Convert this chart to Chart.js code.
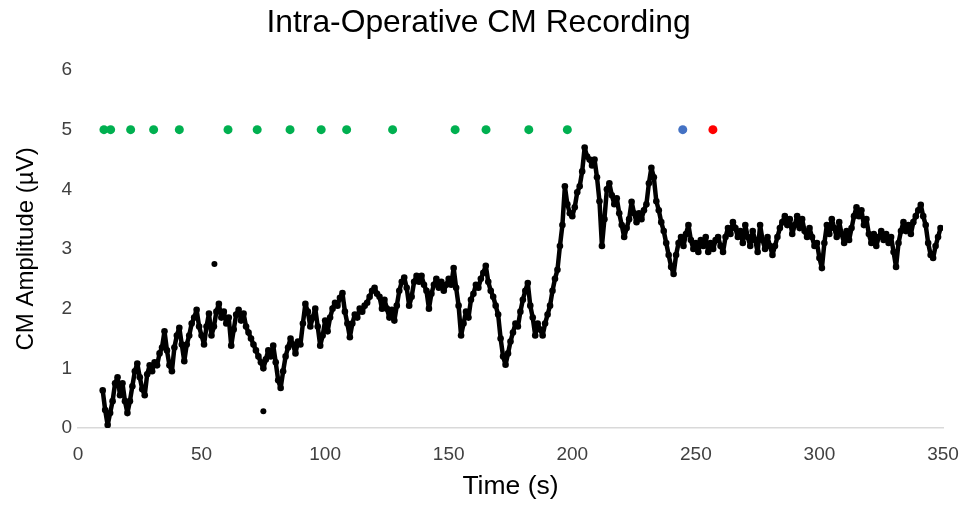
<!DOCTYPE html>
<html lang="en">
<head>
    <meta charset="UTF-8">
    <title>Intra-Operative CM Recording</title>
    <script src="https://cdn.jsdelivr.net/npm/chart.js"></script>
    <style>
        html, body { margin: 0; padding: 0; background: #fff; }
        #wrap { width: 965px; height: 508px; }
    </style>
</head>
<body>
<div id="wrap"><canvas id="cmChart" width="965" height="508"></canvas></div>
<script>
// CM amplitude (uV), one reading per second starting at t = 10 s
const startTime = 10;
const stepTime = 1;
const cmAmplitude = [
    0.63, 0.30, 0.05, 0.25, 0.45, 0.75, 0.85, 0.55, 0.75, 0.45,   // 10-19
    0.25, 0.45, 0.70, 0.95, 1.08, 0.85, 0.65, 0.55, 0.90, 1.05,   // 20-29
    0.95, 1.10, 1.05, 1.25, 1.35, 1.62, 1.30, 1.05, 0.95, 1.35,   // 30-39
    1.55, 1.68, 1.40, 1.12, 1.40, 1.55, 1.75, 1.85, 1.98, 1.70,   // 40-49
    1.55, 1.40, 1.70, 1.92, 1.55, 1.70, 1.95, 2.08, 1.85, 1.95,   // 50-59
    1.75, 1.85, 1.38, 1.65, 1.90, 1.98, 1.80, 1.92, 1.70, 1.60,   // 60-69
    1.50, 1.40, 1.30, 1.20, 1.10, 1.00, 1.15, 1.30, 1.20, 1.38,   // 70-79
    1.10, 0.80, 0.67, 0.95, 1.20, 1.35, 1.50, 1.40, 1.25, 1.45,   // 80-89
    1.40, 1.75, 2.08, 1.95, 1.70, 1.85, 2.00, 1.70, 1.38, 1.55,   // 90-99
    1.80, 1.62, 1.85, 2.00, 2.10, 2.05, 2.18, 2.26, 1.95, 1.75,   // 100-109
    1.52, 1.75, 1.90, 1.85, 2.00, 1.95, 2.05, 2.10, 2.20, 2.30,   // 110-119
    2.35, 2.25, 2.20, 2.00, 2.15, 2.00, 1.85, 1.98, 1.80, 2.05,   // 120-129
    2.30, 2.45, 2.52, 2.35, 2.05, 2.20, 2.45, 2.55, 2.45, 2.55,   // 130-139
    2.40, 2.30, 2.00, 2.25, 2.40, 2.50, 2.35, 2.45, 2.30, 2.40,   // 140-149
    2.50, 2.40, 2.68, 2.35, 2.05, 1.55, 1.75, 1.95, 1.85, 2.15,   // 150-159
    2.25, 2.40, 2.35, 2.50, 2.60, 2.72, 2.45, 2.30, 2.20, 2.05,   // 160-169
    1.90, 1.50, 1.20, 1.06, 1.25, 1.45, 1.60, 1.75, 1.70, 1.95,   // 170-179
    2.15, 2.30, 2.43, 2.05, 1.85, 1.55, 1.75, 1.65, 1.55, 1.75,   // 180-189
    1.90, 2.05, 2.30, 2.50, 2.65, 3.05, 3.40, 4.05, 3.75, 3.60,   // 190-199
    3.55, 3.70, 3.95, 4.05, 4.30, 4.70, 4.55, 4.50, 4.40, 4.50,   // 200-209
    4.20, 3.80, 3.05, 3.50, 4.00, 4.10, 3.90, 3.75, 3.85, 3.60,   // 210-219
    3.40, 3.20, 3.35, 3.50, 3.79, 3.60, 3.45, 3.60, 3.50, 3.65,   // 220-229
    3.75, 4.10, 4.36, 4.20, 3.80, 3.65, 3.45, 3.30, 3.10, 2.90,   // 230-239
    2.70, 2.58, 2.90, 3.10, 3.20, 3.05, 3.25, 3.40, 3.15, 3.00,   // 240-249
    3.10, 2.95, 3.15, 3.05, 3.20, 2.95, 3.10, 3.00, 3.15, 3.20,   // 250-259
    3.05, 2.95, 3.20, 3.35, 3.25, 3.45, 3.35, 3.20, 3.30, 3.10,   // 260-269
    3.40, 3.20, 3.05, 3.30, 3.15, 2.95, 3.40, 3.15, 3.00, 3.20,   // 270-279
    3.05, 2.90, 3.05, 3.20, 3.35, 3.45, 3.55, 3.40, 3.50, 3.25,   // 280-289
    3.40, 3.55, 3.35, 3.50, 3.30, 3.20, 3.35, 3.20, 3.05, 3.10,   // 290-299
    2.85, 2.68, 3.10, 3.40, 3.25, 3.50, 3.35, 3.20, 3.45, 3.25,   // 300-309
    3.10, 3.30, 3.15, 3.35, 3.55, 3.70, 3.55, 3.65, 3.40, 3.50,   // 310-319
    3.25, 3.10, 3.25, 3.05, 3.20, 3.30, 3.15, 3.25, 3.10, 3.20,   // 320-329
    2.95, 2.70, 3.10, 3.30, 3.45, 3.30, 3.40, 3.25, 3.45, 3.55,   // 330-339
    3.65, 3.74, 3.55, 3.40, 3.10, 2.90, 2.85, 3.05, 3.20, 3.35    // 340-349
];

// stray single readings away from the trace
const strayTimes = [55.2, 75.0];
const strayValues = [2.75, 0.28];

// event markers drawn at 5 uV
const markerLevel = 5;
const greenTimes = [10.5, 13.2, 21.3, 30.6, 41.0, 60.7, 72.5, 85.8, 98.4, 108.7, 127.3, 152.6, 165.1, 182.4, 198.0];
const blueTimes = [244.7];
const redTimes = [256.9];

const xTicks = [0, 50, 100, 150, 200, 250, 300, 350];
const yTicks = [0, 1, 2, 3, 4, 5, 6];

const fontFamily = '"Liberation Sans", Arial, sans-serif';
const tickColor = '#404040';

const tracePoints = cmAmplitude.map((v, i) => ({ x: startTime + i * stepTime, y: v }));
const strayPoints = strayTimes.map((t, i) => ({ x: t, y: strayValues[i] }));
const toMarkers = times => times.map(t => ({ x: t, y: markerLevel }));

const ctx = document.getElementById('cmChart').getContext('2d');
new Chart(ctx, {
    type: 'scatter',
    data: {
        datasets: [
            {
                label: 'CM',
                data: tracePoints,
                showLine: true,
                borderColor: '#000',
                borderWidth: 4.5,
                borderJoinStyle: 'round',
                borderCapStyle: 'round',
                backgroundColor: '#000',
                pointRadius: 3.3,
                pointBorderWidth: 0
            },
            {
                label: 'stray',
                data: strayPoints,
                backgroundColor: '#000',
                pointRadius: 3,
                pointBorderWidth: 0
            },
            {
                label: 'green',
                data: toMarkers(greenTimes),
                backgroundColor: '#00B050',
                pointRadius: 4.5,
                pointBorderWidth: 0
            },
            {
                label: 'blue',
                data: toMarkers(blueTimes),
                backgroundColor: '#4472C4',
                pointRadius: 4.5,
                pointBorderWidth: 0
            },
            {
                label: 'red',
                data: toMarkers(redTimes),
                backgroundColor: '#FF0000',
                pointRadius: 4.5,
                pointBorderWidth: 0
            }
        ]
    },
    options: {
        responsive: false,
        animation: false,
        layout: { padding: { left: 0, right: 8, top: 0, bottom: 0 } },
        plugins: {
            legend: { display: false },
            tooltip: { enabled: false },
            title: {
                display: true,
                text: 'Intra-Operative CM Recording',
                color: '#000',
                font: { family: fontFamily, size: 31.8, weight: 'normal' },
                padding: { top: 4, bottom: 27.8 }
            }
        },
        scales: {
            x: {
                type: 'linear',
                min: 0,
                max: 350,
                afterBuildTicks: s => { s.ticks = xTicks.map(v => ({ value: v })); },
                afterFit: s => {
                    s.height = 80;
                    s.paddingLeft = 0;
                    s.paddingRight = 22;
                },
                grid: { drawOnChartArea: false, drawTicks: false },
                border: { display: true, color: '#D9D9D9', width: 1.5 },
                ticks: {
                    color: tickColor,
                    padding: 15,
                    maxRotation: 0,
                    font: { family: fontFamily, size: 19 }
                },
                title: {
                    display: true,
                    text: 'Time (s)',
                    color: '#000',
                    font: { family: fontFamily, size: 26.5 },
                    padding: { top: 0, bottom: 5 }
                }
            },
            y: {
                min: 0,
                max: 6,
                afterBuildTicks: s => { s.ticks = yTicks.map(v => ({ value: v })); },
                afterFit: s => { s.width = 78; },
                grid: { drawOnChartArea: false, drawTicks: false },
                border: { display: false },
                ticks: {
                    color: tickColor,
                    padding: 6,
                    font: { family: fontFamily, size: 19 }
                },
                title: {
                    display: true,
                    text: 'CM Amplitude (µV)',
                    color: '#000',
                    font: { family: fontFamily, size: 24 },
                    padding: { top: 12, bottom: 0 }
                }
            }
        }
    }
});
</script>
</body>
</html>
